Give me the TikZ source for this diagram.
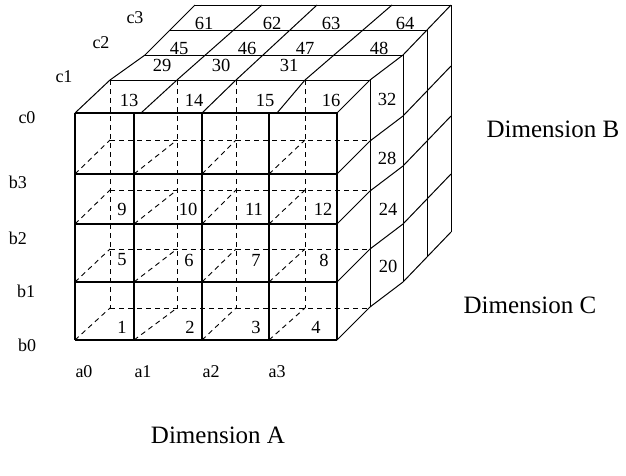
\documentclass[tikz,border=0pt]{standalone}
\usepackage{fontspec}
\setmainfont{Liberation Serif}
\begin{document}
\begin{tikzpicture}[x=1pt,y=-1pt,
  edge/.style={line width=1pt},
  fronth/.style={line width=1.6pt},
  frontv/.style={line width=1.1pt},
  hid/.style={line width=0.9pt, dash pattern=on 5pt off 4pt},
  num/.style={font=\fontsize{18.5}{20}\selectfont, inner sep=0pt},
  axl/.style={font=\fontsize{18}{20}\selectfont, inner sep=0pt},
  dimlabel/.style={font=\fontsize{25}{28}\selectfont, inner sep=0pt}]
\useasboundingbox (0,0) rectangle (626,475);

% hidden (dashed) back plane of front slab
\foreach \x in {110,177,236,305} \draw[hid] (\x,80) -- (\x,308);
\foreach \y in {140,190,249,308} \draw[hid] (110,\y) -- (370,\y);
\foreach \xa/\xb in {75/110,134/177,202/236,269/305}
  \foreach \ya/\yb in {174/140,224/190,282/249,340/308}
    \draw[hid] (\xa,\ya) -- (\xb,\yb);

% front face grid
\foreach \x in {75,134,202,269,337} \draw[frontv] (\x,113) -- (\x,340);
\foreach \y in {113,174,224,282,340} \draw[fronth] (75,\y) -- (337,\y);

% top face
\draw[edge] (75,113) -- (110,80) -- (145,55) -- (170,30) -- (195,5);
\draw[edge] (337,113) -- (370,80) -- (403,55) -- (427,30) -- (451,5);
\draw[edge] (110,80) -- (370,80);
\draw[edge] (145,55) -- (403,55);
\draw[edge] (170,30) -- (427,30);
\draw[edge] (195,5) -- (451,5);
\draw[edge] (141,113) -- (177,80) -- (262,5);
\draw[edge] (202,113) -- (236,80) -- (317,5);
\draw[edge] (277,113) -- (305,80) -- (392,5);

% right face
\draw[edge] (370,80) -- (370,307);
\draw[edge] (403,55) -- (403,282);
\draw[edge] (427,30) -- (427,257);
\draw[edge] (451,5) -- (451,232);
\foreach \r in {174,224,282,340}
  \draw[edge] (337,\r) -- (370,\r-33) -- (403,\r-58) -- (427,\r-83) -- (451,\r-108);

% cell numbers, front face
\node[num] (n1) at (122,327) {1};
\node[num] (n2) at (190,327) {2};
\node[num] (n3) at (256,327) {3};
\node[num] (n4) at (316,327) {4};
\node[num] (n5) at (122,260) {5};
\node[num] (n6) at (189,260) {6};
\node[num] (n7) at (256,260) {7};
\node[num] (n8) at (324,260) {8};
\node[num] (n9) at (122,209) {9};
\node[num] (n10) at (188,209) {10};
\node[num] (n11) at (254,209) {11};
\node[num] (n12) at (323,209) {12};
% top face
\node[num] (n13) at (129,100) {13};
\node[num] (n14) at (194,100) {14};
\node[num] (n15) at (265,100) {15};
\node[num] (n16) at (331,100) {16};
\node[num] (n29) at (162,65) {29};
\node[num] (n30) at (221,65) {30};
\node[num] (n31) at (289,65) {31};
\node[num] (n45) at (179,48) {45};
\node[num] (n46) at (247,48) {46};
\node[num] (n47) at (305,48) {47};
\node[num] (n48) at (379,48) {48};
\node[num] (n61) at (204,23) {61};
\node[num] (n62) at (272,23) {62};
\node[num] (n63) at (331,23) {63};
\node[num] (n64) at (405,23) {64};
% right face
\node[num] (n32) at (387,99) {32};
\node[num] (n28) at (387,158) {28};
\node[num] (n24) at (388,209) {24};
\node[num] (n20) at (388,266) {20};

% axis labels
\node[axl] (c0) at (27,118) {c0};
\node[axl] (c1) at (64,77) {c1};
\node[axl] (c2) at (101,43) {c2};
\node[axl] (c3) at (135,18) {c3};
\node[axl] (b3) at (18,182) {b3};
\node[axl] (b2) at (18,238) {b2};
\node[axl] (b1) at (26,291) {b1};
\node[axl] (b0) at (27,345) {b0};
\node[axl] (a0) at (84,372) {a0};
\node[axl] (a1) at (143,372) {a1};
\node[axl] (a2) at (211,372) {a2};
\node[axl] (a3) at (277,372) {a3};

\node[dimlabel] (dB) at (553,129) {Dimension B};
\node[dimlabel] (dC) at (530,305) {Dimension C};
\node[dimlabel] (dA) at (218,435) {Dimension A};
\end{tikzpicture}
\end{document}
